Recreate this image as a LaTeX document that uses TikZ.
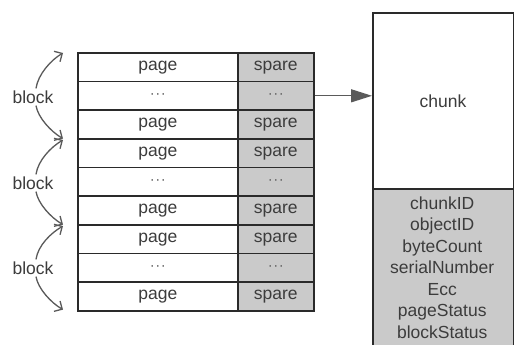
\documentclass[tikz,border=0pt]{standalone}
\usepackage{fontspec}
\setmainfont{Liberation Sans}
\usetikzlibrary{arrows.meta,calc}
\definecolor{linec}{HTML}{2A2A2A}
\definecolor{textc}{HTML}{3C3C3C}
\definecolor{fillc}{HTML}{CACACA}
\definecolor{arrc}{HTML}{5A5A5A}
\newcommand\mydots{{\fontsize{15}{15}\selectfont\textcolor{textc!80}{·\kern0.5pt·\kern0.5pt·}}}
\tikzset{
  cell/.style={draw=linec, line width=1.6pt, minimum height=28.67pt, inner sep=0pt, text=textc, font=\fontsize{17.5}{19}\selectfont, anchor=north west},
  pagecell/.style={cell, fill=white, minimum width=160pt},
  sparecell/.style={cell, fill=fillc, minimum width=76pt},
  blocklabel/.style={text=textc, font=\fontsize{17.5}{19}\selectfont, inner sep=1pt},
  barb/.style={draw=arrc, line width=1.3pt, -{Straight Barb[length=6pt,width=12pt]}},
}
\begin{document}
\begin{tikzpicture}[x=1pt,y=-1pt]
\useasboundingbox (0,0) rectangle (514,345);
\clip (0,0) rectangle (514,345);
\fill[white] (0,0) rectangle (514,345);
% table
\foreach \i/\a/\b in {1/page/spare,2/\mydots/\mydots,3/page/spare,4/page/spare,5/\mydots/\mydots,6/page/spare,7/page/spare,8/\mydots/\mydots,9/page/spare}{
  \node[pagecell] (p\i) at (77,{52+(\i-1)*28.67}) {\a};
  \node[sparecell] (s\i) at (237,{52+(\i-1)*28.67}) {\b};
}
% chunk box
\node[draw=linec, line width=1.6pt, fill=white, minimum width=140.5pt, minimum height=176pt, anchor=north west, inner sep=0pt, text=textc, font=\fontsize{17.5}{19}\selectfont] (chunk) at (372,12) {chunk};
\node[draw=linec, line width=1.6pt, fill=fillc, minimum width=140.5pt, minimum height=170pt, anchor=north west, inner sep=0pt] (oob) at (372,188) {};
\node[text=textc, font=\fontsize{17.5}{21.5}\selectfont, align=center, inner sep=0pt] (fields) at (442.25,267.5) {chunkID\\objectID\\byteCount\\serialNumber\\Ecc\\pageStatus\\blockStatus};
% arrow
\draw[draw=arrc, line width=1.3pt, -{Triangle[length=21pt,width=13pt]}] (s2.east) -- (s2.east -| chunk.west);
% block labels
\node[blocklabel] (b1) at (33,97) {block};
\node[blocklabel] (b2) at (33,183) {block};
\node[blocklabel] (b3) at (33,268) {block};
\coordinate (t1) at ($(p1.north west)+(-14,1)$);
\coordinate (t2) at ($(p3.south west)+(-14,-1)$);
\coordinate (t3) at ($(p4.north west)+(-14,2)$);
\coordinate (t4) at ($(p6.south west)+(-14,-1)$);
\coordinate (t5) at ($(p7.north west)+(-14,2)$);
\coordinate (t6) at ($(p9.south west)+(-14,-2)$);
\foreach \b/\u/\d in {b1/t1/t2,b2/t3/t4,b3/t5/t6}{
  \draw[barb] ($(\b.north)+(3,-1)$) .. controls +(2,-14) and +(-12,7) .. (\u);
  \draw[barb] ($(\b.south)+(3,1)$) .. controls +(2,12) and +(-12,-7) .. (\d);
}
\end{tikzpicture}
\end{document}
